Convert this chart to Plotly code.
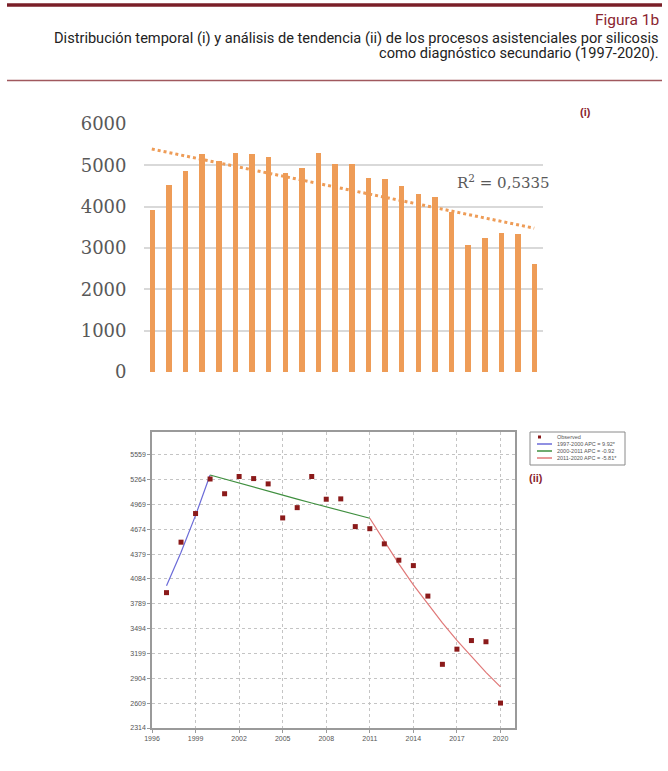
import numpy as np
import plotly.graph_objects as go

W, H = 668, 755

years = list(range(1997, 2021))
cases = [3921, 4520, 4860, 5270, 5095, 5300, 5275, 5212, 4808, 4930, 5300, 5030,
         5034, 4705, 4680, 4500, 4306, 4242, 3880, 3070, 3250, 3352, 3338, 2610]
r2_label = "R<sup>2</sup> = 0,5335"

seg1_years = [1997, 1998, 1999, 2000]
seg1_fit = [4004, 4400, 4838, 5318]
seg2_years = list(range(2000, 2012))
seg2_fit = [5318, 5269, 5221, 5173, 5125, 5078, 5031, 4985, 4939, 4894, 4849, 4804]
seg3_years = list(range(2011, 2021))
seg3_fit = [4804, 4525, 4262, 4014, 3781, 3561, 3354, 3159, 2975, 2803]

legend_labels = ["Observed", "1997-2000 APC = 9.92*", "2000-2011 APC = -0.92", "2011-2020 APC = -5.81*"]
y2_ticks = [2314, 2609, 2904, 3199, 3494, 3789, 4084, 4379, 4674, 4969, 5264, 5559]
x2_ticks = [1996, 1999, 2002, 2005, 2008, 2011, 2014, 2017, 2020]

ORANGE = "#EE9C57"
MAROON = "#8B2530"
C_BLUE = "#6b6bd8"
C_GREEN = "#3f8f3f"
C_RED = "#e07878"


def px(x):
    return x / W


def py(y):
    return 1 - y / H


# linear trend of the bar data (Excel-style trendline)
idx = np.arange(1, len(cases) + 1)
slope, intercept = np.polyfit(idx, np.array(cases, dtype=float), 1)
trend = (intercept + slope * idx).tolist()

fig = go.Figure()

fig.add_trace(go.Bar(x=years, y=cases, marker=dict(color=ORANGE, line=dict(width=0)),
                     width=0.33, xaxis="x", yaxis="y", showlegend=False))
fig.add_trace(go.Scatter(x=years, y=trend, mode="lines",
                         line=dict(color=ORANGE, width=3, dash="dot"),
                         xaxis="x", yaxis="y", showlegend=False))

fig.add_trace(go.Scatter(x=seg1_years, y=seg1_fit, mode="lines", line=dict(color=C_BLUE, width=1.2),
                         xaxis="x2", yaxis="y2", showlegend=False))
fig.add_trace(go.Scatter(x=seg2_years, y=seg2_fit, mode="lines", line=dict(color=C_GREEN, width=1.2),
                         xaxis="x2", yaxis="y2", showlegend=False))
fig.add_trace(go.Scatter(x=seg3_years, y=seg3_fit, mode="lines", line=dict(color=C_RED, width=1.2),
                         xaxis="x2", yaxis="y2", showlegend=False))
fig.add_trace(go.Scatter(x=years, y=cases, mode="markers",
                         marker=dict(symbol="square", size=5, color="#8B1A1A"),
                         xaxis="x2", yaxis="y2", showlegend=False))

serif = "DejaVu Serif, Liberation Serif, serif"
cond = "Roboto, Lato, sans-serif"
small = "Liberation Sans, Arial, sans-serif"

fig.update_layout(
    width=W, height=H, autosize=False,
    margin=dict(l=0, r=0, t=0, b=0),
    paper_bgcolor="white", plot_bgcolor="white",
    bargap=0,
    xaxis=dict(domain=[px(143.5), px(542.5)], range=[1996.5, 2020.5], showticklabels=False,
               showgrid=False, zeroline=False, ticks="", showline=False, anchor="y", automargin=False),
    yaxis=dict(domain=[py(372), py(124)], range=[0, 6000], tickvals=[0, 1000, 2000, 3000, 4000, 5000, 6000],
               showgrid=True, gridcolor="#d9d9d9", gridwidth=2, zeroline=False, showline=False,
               anchor="x", automargin=False,
               tickfont=dict(family=serif, size=18, color="#595959"), ticklabelstandoff=16),
    xaxis2=dict(domain=[px(152), px(515)], range=[1996, 2021], tickvals=x2_ticks, anchor="y2",
                showgrid=True, gridcolor="#c4c4c4", griddash="dot", gridwidth=1, automargin=False,
                zeroline=False, showline=True, linecolor="#9a9a9a", linewidth=1.5, mirror=True,
                ticks="outside", ticklen=3, tickcolor="#9a9a9a",
                tickfont=dict(family=small, size=7, color="#555")),
    yaxis2=dict(domain=[py(728), py(432)], range=[2314, 5828], tickvals=y2_ticks, anchor="x2",
                showgrid=True, gridcolor="#c4c4c4", griddash="dot", gridwidth=1, automargin=False,
                zeroline=False, showline=True, linecolor="#9a9a9a", linewidth=1.5, mirror=True,
                ticks="outside", ticklen=3, tickcolor="#9a9a9a",
                tickfont=dict(family=small, size=7, color="#555")),
)

shapes = [
    dict(type="line", xref="paper", yref="paper", x0=px(7), x1=px(662), y0=py(5), y1=py(5),
         line=dict(color="#7a1f28", width=3.5)),
    dict(type="line", xref="paper", yref="paper", x0=px(7), x1=px(662), y0=py(80.5), y1=py(80.5),
         line=dict(color="#a0585e", width=1.5)),
    # manual legend box
    dict(type="rect", xref="paper", yref="paper", x0=px(530), x1=px(625), y0=py(465), y1=py(432),
         line=dict(color="#8a8a8a", width=1), fillcolor="white"),
    dict(type="rect", xref="paper", yref="paper", x0=px(538), x1=px(541), y0=py(438.5), y1=py(435.5),
         line=dict(width=0), fillcolor="#8B1A1A"),
]
for yy, col in zip([444, 451, 458], [C_BLUE, C_GREEN, C_RED]):
    shapes.append(dict(type="line", xref="paper", yref="paper", x0=px(537), x1=px(552),
                       y0=py(yy), y1=py(yy), line=dict(color=col, width=1.5)))

annotations = [
    dict(text="Figura 1b", xref="paper", yref="paper", x=px(661), y=py(20), xanchor="right",
         yanchor="middle", showarrow=False, font=dict(family=cond, size=15.5, color=MAROON)),
    dict(text="Distribución temporal (i) y análisis de tendencia (ii) de los procesos asistenciales por silicosis",
         xref="paper", yref="paper", x=px(661), y=py(38), xanchor="right", yanchor="middle",
         showarrow=False, font=dict(family=cond, size=14.6, color="#222")),
    dict(text="como diagnóstico secundario (1997-2020).",
         xref="paper", yref="paper", x=px(661), y=py(53.5), xanchor="right", yanchor="middle",
         showarrow=False, font=dict(family=cond, size=14.6, color="#222")),
    dict(text=r2_label, xref="paper", yref="paper", x=px(455), y=py(182), xanchor="left",
         yanchor="middle", showarrow=False, font=dict(family=serif, size=15, color="#595959")),
    dict(text="<b>(i)</b>", xref="paper", yref="paper", x=px(585), y=py(112), xanchor="center",
         yanchor="middle", showarrow=False, font=dict(family=small, size=11, color=MAROON)),
    dict(text="<b>(ii)</b>", xref="paper", yref="paper", x=px(536), y=py(478), xanchor="center",
         yanchor="middle", showarrow=False, font=dict(family=small, size=11, color=MAROON)),
]
for yy, lab in zip([437, 444, 451, 458], legend_labels):
    annotations.append(dict(text=lab, xref="paper", yref="paper", x=px(555), y=py(yy),
                            xanchor="left", yanchor="middle", showarrow=False,
                            font=dict(family=small, size=5.5, color="#555")))

fig.update_layout(shapes=shapes, annotations=annotations)
fig.write_html("out.html", config={"displayModeBar": False, "responsive": False},
               post_script="document.body.style.margin='0px';document.body.style.overflow='hidden';")
